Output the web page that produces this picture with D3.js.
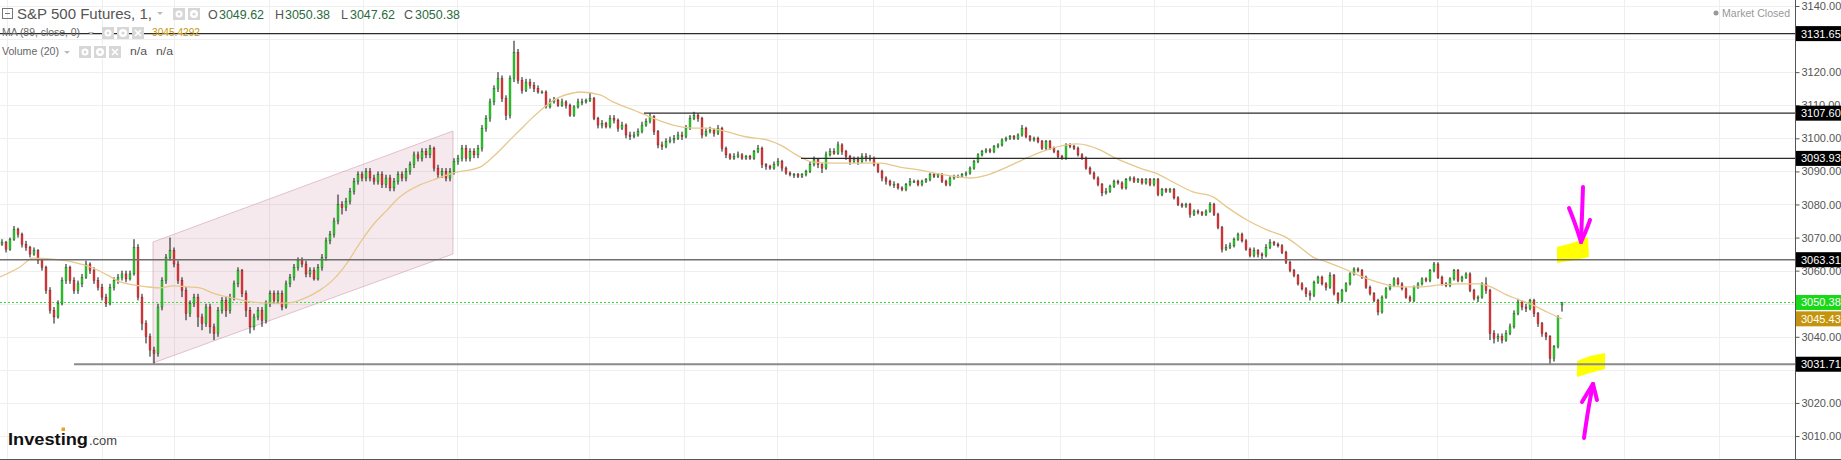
<!DOCTYPE html>
<html><head><meta charset="utf-8">
<script src="https://cdn.jsdelivr.net/npm/d3@7"></script>
<style>body{margin:0;background:#fff;overflow:hidden}svg{display:block}</style>
</head><body><svg id="c" width="1841" height="460"></svg>
<script>
// ---- DATA (1-minute S&P 500 futures bars) ----
const openP = [
3068,3068.5,3066.5,3069.5,3072.5,3071,3068,3067,3065,3066,
3063,3061,3054,3048,3046,3050,3057,3061,3057,3054,
3056,3058,3062,3060,3057,3055,3052,3050,3055,3057,
3058,3059,3057.5,3059,3067,3052,3044,3040,3036,3035,
3049,3057,3064,3066,3062,3057,3054,3047,3050,3052,
3046,3044,3049,3043,3041,3048,3051,3048,3052,3056,
3060,3053,3048,3043,3046,3048,3045,3050,3053,3051,
3053,3049,3056,3058,3061,3063,3062,3059,3060,3057.5,
3061,3064,3069,3071,3075,3080,3079,3081,3084,3087,
3089,3088,3090,3088,3087,3089,3086,3088,3085,3087,
3089,3088,3090,3092,3095,3094,3096,3095,3097,3091,
3089,3090,3088,3090,3093,3094,3097,3094,3096,3095,
3097,3103,3106,3111,3115,3118,3112,3107,3118,3126,
3117.5,3114.5,3117,3116,3115,3114,3114,3109.5,3111,3111.5,
3110,3111,3110,3107,3109.5,3111,3111,3111.5,3112,3106,
3104,3104.5,3103.5,3106,3105.5,3103,3104,3101,3100.5,3101,
3102,3104,3105,3106.5,3102,3098,3097.5,3099,3099.5,3100,
3101,3100.5,3103,3106,3107,3106,3101,3102,3102.5,3101.5,
3103,3097,3095,3094,3094.5,3095,3094,3094.5,3094,3096,
3097,3092,3091.5,3091,3092,3093,3091,3089.5,3089,3089,
3088.5,3089,3090,3092,3093.5,3092,3091,3095,3096,3095.5,
3098,3096,3094.5,3093,3093.5,3093,3094.5,3094,3094,3092,
3090,3088,3087,3086,3086,3085,3084.5,3086,3087,3087,
3086,3087,3087.5,3089,3088.5,3089,3087,3086,3088,3088.5,
3088.5,3089,3089.5,3091,3093,3095,3096,3096.5,3096,3097.5,
3098,3099.5,3100,3100.5,3100,3101,3103,3100.5,3099.5,3100,
3099,3097,3099,3097,3096,3094.5,3094,3098,3097.5,3097,
3095,3094,3091,3089.5,3088,3086,3083.5,3084,3085.5,3087,
3086.5,3085,3087.5,3088,3087,3087.5,3086.5,3087.5,3086,3087.5,
3083,3084.5,3084,3084.5,3082,3080,3079.5,3080,3077,3078,
3077.5,3077,3078,3080,3077,3073,3066.5,3067,3067.5,3069.5,
3071,3069,3066.5,3064.5,3066,3065,3064.5,3067,3068.5,3068,
3067.5,3065.5,3062.5,3060,3058.5,3056,3054.5,3053,3052.5,3056.5,
3058,3056,3055,3058.5,3053,3051,3054,3056,3059,3060.5,
3060,3058,3055,3053,3051,3047.5,3052,3054.5,3055.5,3057.5,
3056,3054.5,3052,3051,3055,3056,3057.5,3057,3060,3062,
3058,3056,3055.5,3057.5,3060,3057,3058,3059,3054,3051.5,
3052,3056,3054,3041,3039.5,3040,3039,3041,3043,3047,
3050.5,3049,3048.5,3051,3047,3044,3041,3040,3033.5,3037,
3049.62];
const highP = [
3069.5,3069,3070,3073.5,3073,3071.5,3069,3067.5,3067,3066.5,
3063.5,3061.5,3055,3049,3051,3058,3062,3061.5,3058,3057,
3059,3063,3062.5,3061,3058,3056,3053,3056,3058,3059,
3060,3060,3060,3069.5,3068,3053,3045,3041,3037,3050,
3058,3065,3070,3067,3063,3058,3055,3051,3053,3053,
3047,3050,3050,3044,3049,3052,3052,3053,3057,3061,
3060.5,3054,3049,3047,3049,3049,3051,3054,3054,3054,
3054,3057,3059,3062,3064,3064,3063,3061,3061,3062,
3065,3070,3072,3076,3083,3081,3082,3085,3088,3090,
3090,3091,3091,3089,3090,3090,3089,3089,3088,3090,
3090,3091,3093,3096,3096,3097,3097,3098,3097.5,3092,
3091,3091,3091,3094,3095,3098,3098,3097,3097,3098,
3104,3107,3112,3116,3120,3119,3113,3119,3129.5,3127,
3118.5,3118,3118,3117,3116,3114.5,3114.5,3112,3112.5,3112,
3112,3111.5,3110.5,3110,3112,3112,3112,3113.7,3112.5,3106.5,
3105.5,3105,3107,3107,3106,3105,3104.5,3102,3102,3103,
3105,3106,3107.6,3107,3102.5,3099,3100,3100.5,3101,3102,
3102,3104,3107,3108,3107.5,3106.5,3103,3103.5,3103,3104,
3103.5,3097.5,3095.5,3095.5,3096,3095.5,3095,3095,3096.5,3098,
3097.5,3092.5,3092,3093,3094,3093.5,3091.5,3090,3089.5,3089.5,
3089.5,3090.5,3093,3094.5,3094,3092.5,3096,3097,3097,3099,
3098.5,3096.5,3095,3094.5,3094.5,3095.5,3095.5,3095,3094.5,3092.5,
3090.5,3088.5,3087.5,3087,3086.5,3085.5,3086.5,3088,3087.5,3087.5,
3087.5,3088,3089.5,3089.5,3089.5,3089.5,3087.5,3088.5,3089,3089,
3089.5,3090,3091.5,3093.5,3095.5,3096.5,3097,3097,3098,3098.5,
3100,3100.5,3101,3101,3101.5,3104,3103.5,3101,3100.5,3100.5,
3099.5,3099.5,3099.5,3097.5,3096.5,3095,3098.5,3098.5,3098,3097.5,
3095.5,3094.5,3091.5,3090,3088.5,3086.5,3085,3086,3087.5,3087.5,
3087,3088,3088.5,3088.5,3088,3088,3088,3088,3088,3088,
3085,3085,3085,3085,3082.5,3080.5,3080.5,3080.5,3078.5,3078.5,
3078,3078.5,3080.7,3080.5,3077.5,3073.5,3068,3068.5,3070,3071.5,
3071.5,3069.5,3067,3067,3066.5,3065.5,3068,3069.5,3069,3068.5,
3068,3066,3063,3060.5,3059,3056.5,3055,3054,3057,3058.5,
3058.5,3056.5,3059.5,3059,3053.5,3054.5,3056.5,3059.5,3061,3061,
3060.5,3058.5,3055.5,3053.5,3051.5,3052.5,3055,3056,3058,3058,
3056.5,3055,3052.5,3055.5,3056.5,3058,3058,3060.5,3062.6,3062.5,
3058.5,3056.5,3058,3060.5,3060.5,3058.5,3059.5,3059.5,3054.5,3052.5,
3056.5,3058,3054.5,3042,3041,3041,3042,3044,3048,3051.5,
3051,3050,3051.5,3051.5,3047.5,3044.5,3041.5,3040.5,3037.5,3046.5,
3050.38];
const lowP = [
3067.5,3065.5,3066,3069,3070,3067,3066,3064,3064.5,3062,
3060,3053,3047,3044,3045.5,3049.5,3056,3056,3053,3053,
3055,3057.5,3059,3056,3054,3051,3049,3049.5,3054,3056,
3057,3056.5,3057,3058.5,3051,3042,3038,3034,3031.7,3034,
3048,3056,3063,3061,3056,3052,3045,3046,3049,3043,
3042,3043,3041,3039,3040,3047,3046,3047,3051,3055,
3052,3046,3041,3042,3045,3043,3044,3049,3050,3050,
3048,3048.5,3055,3057,3060,3061,3058,3058,3057,3057,
3060,3063,3068,3070,3074,3077,3078,3080,3083,3086,
3087,3087,3087,3086,3086,3085,3085,3084,3084,3086,
3087,3087,3089,3091,3093,3093,3094,3094,3090,3088,
3088,3087,3087,3089,3092,3093,3093,3093,3094,3094,
3096,3102,3105,3110,3114,3111,3105.5,3106,3117,3116.5,
3113.5,3114,3115,3114,3113.5,3113.5,3109,3109,3110.5,3109.5,
3109.5,3109,3106.5,3106.5,3109,3110,3110.5,3111,3105.5,3103,
3103,3103,3103,3104.5,3102,3102.5,3100,3099.5,3100,3100.5,
3101.5,3103.5,3104.5,3101,3097,3096.5,3097,3098.5,3098.5,3099.5,
3099.5,3100,3102.5,3105.5,3105,3100,3100.5,3101.5,3100.5,3101,
3096,3094,3093.5,3093.5,3094,3093.5,3093.5,3093.5,3093.5,3095.5,
3091,3090.5,3090.5,3090.5,3091.5,3090,3089,3088.5,3088,3088,
3088,3088.5,3089.5,3091.5,3091,3089.5,3090.5,3094.5,3095,3095,
3095,3093.5,3092,3092.5,3092,3092.5,3093,3093,3091.5,3089.5,
3087,3086,3085.5,3085,3084.5,3084,3084,3085.5,3086.5,3085.5,
3085.5,3086.5,3087,3088,3088,3086.5,3085.5,3085.5,3087.5,3088,
3088,3088.5,3089,3090.5,3092.5,3094.5,3095.5,3095.5,3095.5,3097,
3097.5,3099,3099.5,3099.5,3099.5,3100.5,3100,3099,3099,3098.5,
3096.5,3096.5,3096.5,3095.5,3094,3093.5,3093.5,3097,3096.5,3094.5,
3093.5,3090.5,3089,3087.5,3085.5,3082.5,3083,3083.5,3085,3086,
3084.5,3084.5,3087,3086.5,3086.5,3086,3086,3085.5,3085.5,3082.5,
3082.5,3083.5,3083.5,3081.5,3079.5,3079,3079,3076,3076.5,3077,
3076.5,3076.5,3077.5,3076.5,3072.5,3065.5,3066,3066.5,3067,3069,
3068.5,3066,3064,3064,3064,3063.5,3064,3066.5,3067.5,3067,
3065,3062,3059.5,3058,3055.5,3054,3052,3051,3052,3056,
3055.5,3054,3054.5,3052.5,3050,3050.5,3053.5,3055.5,3058.5,3059.5,
3057.5,3054.5,3052.5,3050.5,3046.5,3047,3051.5,3054,3055,3055.5,
3054,3051.5,3050.5,3050.5,3054.5,3055.5,3056.5,3056.5,3059.5,3057.5,
3055.5,3055,3055,3057,3056.5,3056.5,3057.5,3053.5,3051,3050.5,
3051.5,3053,3039,3038,3038.5,3038,3038.5,3040.5,3042.5,3046.5,
3048,3047.5,3048,3046,3043,3040,3039,3031.7,3032.5,3036.5,
3047.62];
const closeP = [
3068.5,3066.5,3069.5,3072.5,3071,3068,3067,3065,3066,3063,
3061,3054,3048,3046,3050,3057,3061,3057,3054,3056,
3058,3062,3060,3057,3055,3052,3050,3055,3057,3058,
3059,3057.5,3059,3067,3052,3044,3040,3036,3035,3049,
3057,3064,3066,3062,3057,3054,3047,3050,3052,3046,
3044,3049,3043,3041,3048,3051,3048,3052,3056,3060,
3053,3048,3043,3046,3048,3045,3050,3053,3051,3053,
3049,3056,3058,3061,3063,3062,3059,3060,3057.5,3061,
3064,3069,3071,3075,3080,3079,3081,3084,3087,3089,
3088,3090,3088,3087,3089,3086,3088,3085,3087,3089,
3088,3090,3092,3095,3094,3096,3095,3097,3091,3089,
3090,3088,3090,3093,3094,3097,3094,3096,3095,3097,
3103,3106,3111,3115,3118,3112,3107,3118,3126,3117.5,
3114.5,3117,3116,3115,3114,3114,3109.5,3111,3111.5,3110,
3111,3110,3107,3109.5,3111,3111,3111.5,3112,3106,3104,
3104.5,3103.5,3106,3105.5,3103,3104,3101,3100.5,3101,3102,
3104,3105,3106.5,3102,3098,3097.5,3099,3099.5,3100,3101,
3100.5,3103,3106,3107,3106,3101,3102,3102.5,3101.5,3103,
3097,3095,3094,3094.5,3095,3094,3094.5,3094,3096,3097,
3092,3091.5,3091,3092,3093,3091,3089.5,3089,3089,3088.5,
3089,3090,3092,3093.5,3092,3091,3095,3096,3095.5,3098,
3096,3094.5,3093,3093.5,3093,3094.5,3094,3094,3092,3090,
3088,3087,3086,3086,3085,3084.5,3086,3087,3087,3086,
3087,3087.5,3089,3088.5,3089,3087,3086,3088,3088.5,3088.5,
3089,3089.5,3091,3093,3095,3096,3096.5,3096,3097.5,3098,
3099.5,3100,3100.5,3100,3101,3103,3100.5,3099.5,3100,3099,
3097,3099,3097,3096,3094.5,3094,3098,3097.5,3097,3095,
3094,3091,3089.5,3088,3086,3083.5,3084,3085.5,3087,3086.5,
3085,3087.5,3088,3087,3087.5,3086.5,3087.5,3086,3087.5,3083,
3084.5,3084,3084.5,3082,3080,3079.5,3080,3077,3078,3077.5,
3077,3078,3080,3077,3073,3066.5,3067,3067.5,3069.5,3071,
3069,3066.5,3064.5,3066,3065,3064.5,3067,3068.5,3068,3067.5,
3065.5,3062.5,3060,3058.5,3056,3054.5,3053,3052.5,3056.5,3058,
3056,3055,3058.5,3053,3051,3054,3056,3059,3060.5,3060,
3058,3055,3053,3051,3047.5,3052,3054.5,3055.5,3057.5,3056,
3054.5,3052,3051,3055,3056,3057.5,3057,3060,3062,3058,
3056,3055.5,3057.5,3060,3057,3058,3059,3054,3051.5,3052,
3056,3054,3041,3039.5,3040,3039,3041,3043,3047,3050.5,
3049,3048.5,3051,3047,3044,3041,3040,3033.5,3037,3046,
3050.38];

// 89-period moving average, sampled at bar positions
const maIdx = [-0.5,4.5,7.75,12.75,17.75,22.75,26.25,29.5,32.75,36.25,39.5,42.75,46.25,49.5,52.75,57.75,62.75,66.25,71.25,74.5,79.5,82.75,86.25,89.5,92.75,96.25,99.5,104.5,107.75,112.75,119.5,122.75,126.25,129.5,132.75,136.25,139.5,142.75,144.5,149.5,152.75,157.75,162.75,167.75,172.75,176.25,179.5,186.25,191.25,194.5,199.5,202.75,207.75,216.25,219.5,224.5,229.5,234.5,239.5,242,246.25,251.25,256.25,261.25,266.25,268.75,274.5,277.75,284.5,289.5,292.75,297.75,302.75,306.25,311.25,316.25,321.25,324.5,327.75,331.25,336.25,339.5,344.5,349.5,354.5,359.5,364.5,369.5,372.75,376.25,379.5,382.75,386.25,389.5,390];
const maVal = [3058.1,3061.1,3063.8,3063.5,3062.6,3060.8,3058.7,3056.6,3055.7,3055.1,3054.8,3055.4,3055.1,3054.8,3053.2,3051.7,3050.5,3050.2,3050.2,3051.1,3054.1,3057.2,3062.3,3068.4,3073.8,3078.3,3082.3,3085.9,3087.4,3089.5,3091.3,3094.4,3098.6,3102.5,3106.4,3110.1,3112.5,3113.7,3114.0,3113.1,3111.0,3108.6,3106.1,3104.0,3103.1,3103.1,3102.5,3100.4,3099.5,3098.0,3094.4,3092.8,3092.5,3092.5,3092.5,3091.3,3090.4,3089.2,3088.3,3088.0,3088.9,3091.3,3094.1,3096.5,3098.0,3098.3,3096.5,3094.4,3091.0,3088.9,3086.8,3083.8,3082.3,3079.2,3075.3,3072.3,3069.9,3067.1,3064.1,3062.6,3060.2,3058.4,3056.3,3055.1,3055.1,3055.7,3056.0,3056.0,3054.8,3052.6,3051.1,3049.6,3047.5,3045.7,3045.43];

const yTicks = [3010,3020,3030,3040,3050,3060,3070,3080,3090,3100,3110,3120,3130,3140];
const timeGrid = [1.25,25,43,66.75,90.25,113.75,146.75,170.5,193.75,217.75,241,264.5,288,311.5,335,358.75,382.25,405.5,429.25];

const levelVals = [3131.65,3107.60,3093.93,3063.31,3031.71];
const levelStart = [-0.5,160.5,199.75,-0.5,18];
const lastPrice = 3050.38;
const maLast = 3045.43;
const channelIdx = [37.75,112.75];
const channelTop = [3068.66,3102.21];
const channelBot = [3032.08,3065.03];
const legendOHLC = ["3049.62","3050.38","3047.62","3050.38"];
const maLegend = "3045.4292";

// ---- CHART ----
const W=1841,H=460,plotR=1795;
const svg=d3.select('#c');
const x=d3.scaleLinear().domain([0,390]).range([2,1562]);
const y=d3.scaleLinear().domain([3002.76,3141.81]).range([460,0]);
const font='"Liberation Sans", Arial, sans-serif';

// grid
const g=svg.append('g');
g.selectAll('.hg').data(yTicks).enter().append('line')
 .attr('x1',0).attr('x2',plotR).attr('y1',d=>Math.round(y(d))+0.5).attr('y2',d=>Math.round(y(d))+0.5)
 .attr('stroke','#efefef');
g.selectAll('.vg').data(timeGrid).enter().append('line')
 .attr('y1',0).attr('y2',H).attr('x1',d=>Math.round(x(d))+0.5).attr('x2',d=>Math.round(x(d))+0.5)
 .attr('stroke','#efefef');

// channel
const chPts=[[x(channelIdx[0]),y(channelTop[0])],[x(channelIdx[1]),y(channelTop[1])],[x(channelIdx[1]),y(channelBot[1])],[x(channelIdx[0]),y(channelBot[0])]];
svg.append('polygon').attr('points',chPts.map(p=>p.join(',')).join(' '))
 .attr('fill','rgba(196,120,150,0.16)').attr('stroke','rgba(205,150,170,0.55)').attr('stroke-width',1);

// yellow highlights (hand drawn)
const yellow1=[[1557,247],[1572,243],[1588,237],[1589,257],[1575,260],[1557,263]];
const yellow2=[[1577,361],[1590,356],[1605,353],[1605,369],[1590,373],[1577,377]];
[yellow1,yellow2].forEach(p=>svg.append('polygon').attr('points',p.map(q=>q.join(',')).join(' ')).attr('fill','#ffff00'));

// green dotted last-price line
svg.append('line').attr('x1',0).attr('x2',plotR).attr('y1',Math.round(y(lastPrice))+0.5).attr('y2',Math.round(y(lastPrice))+0.5)
 .attr('stroke','#3ee03e').attr('stroke-dasharray','2,2').attr('stroke-width',1);

// candles
const bars=d3.range(closeP.length).map(i=>({i,o:openP[i],h:highP[i],l:lowP[i],c:closeP[i]}));
const cg=svg.append('g');
cg.selectAll('.w').data(bars).enter().append('line')
 .attr('x1',d=>x(d.i)).attr('x2',d=>x(d.i)).attr('y1',d=>y(d.h)).attr('y2',d=>y(d.l))
 .attr('stroke','#111').attr('stroke-width',1);
cg.selectAll('.b').data(bars).enter().append('rect')
 .attr('x',d=>x(d.i)-1).attr('width',2)
 .attr('y',d=>y(Math.max(d.o,d.c)))
 .attr('height',d=>Math.max(1,Math.abs(y(d.o)-y(d.c))))
 .attr('fill',d=>d.c>=d.o?'#22dd22':'#ff3333')
 .attr('stroke','#000').attr('stroke-width',0.35).attr('stroke-opacity',0.7);

// moving average
svg.append('path').datum(maIdx.map((d,k)=>[d,maVal[k]]))
 .attr('d',d3.line().x(d=>x(d[0])).y(d=>y(d[1])).curve(d3.curveMonotoneX))
 .attr('fill','none').attr('stroke','#e6c88c').attr('stroke-width',1.3);

// horizontal levels
const levelColor=['#2b2b2b','#2b2b2b','#2b2b2b','#6e6e6e','#8a8a8a'];
const levelWidth=[1.3,1.3,1.3,1.6,2.2];
levelVals.forEach((v,k)=>{
  svg.append('line').attr('x1',x(levelStart[k])).attr('x2',plotR).attr('y1',y(v)).attr('y2',y(v))
   .attr('stroke',levelColor[k]).attr('stroke-width',levelWidth[k]);
});

// hand-drawn magenta arrows
const arrows=[
 [[1583,187],[1582,215],[1581,242]],
 [[1569,208],[1576,226],[1581,242]],
 [[1590,220],[1586,231],[1581,242]],
 [[1584,438],[1588,410],[1593,384]],
 [[1582,402],[1588,392],[1593,384]],
 [[1597,400],[1595,392],[1593,384]]
];
arrows.forEach(p=>svg.append('path').attr('d',d3.line().curve(d3.curveBasis)(p))
 .attr('fill','none').attr('stroke','#ff00ff').attr('stroke-width',4).attr('stroke-linecap','round'));

// right axis (tick labels that sit fully under a price box are hidden, as in the original)
const boxVals=levelVals.concat([lastPrice,maLast]);
const shownTicks=yTicks.filter(t=>!boxVals.some(v=>Math.abs(y(v)-y(t))<7));
const ax=svg.append('g').attr('transform',`translate(${plotR+0.5},0)`)
 .call(d3.axisRight(y).tickValues(shownTicks).tickFormat(d3.format('.2f')).tickSize(4).tickPadding(2));
ax.select('.domain').attr('stroke','#555').attr('d',`M0,0V${H}`);
ax.selectAll('.tick line').attr('stroke','#555');
ax.selectAll('text').attr('fill','#555').style('font-family',font).style('font-size','11px');

// price label boxes
const boxes=levelVals.map(v=>({v,bg:'#000'})).concat([{v:lastPrice,bg:'#18d818'},{v:maLast,bg:'#c4940c'}]);
boxes.forEach(b=>{
  const yy=y(b.v);
  svg.append('rect').attr('x',plotR+1).attr('y',yy-7.5).attr('width',W-plotR-1).attr('height',15).attr('fill',b.bg);
  svg.append('text').attr('x',plotR+6).attr('y',yy+4).text(b.v.toFixed(2))
   .attr('fill','#fff').style('font-family',font).style('font-size','11px');
});

// bottom border
svg.append('line').attr('x1',0).attr('x2',W).attr('y1',459.5).attr('y2',459.5).attr('stroke','#555');

// ---- legend ----
function txt(s,xx,yy,size,fill,len,weight){
  const t=svg.append('text').attr('x',xx).attr('y',yy).text(s).attr('fill',fill)
   .style('font-family',font).style('font-size',size+'px');
  if(weight) t.style('font-weight',weight);
  if(len) t.attr('textLength',len).attr('lengthAdjust','spacingAndGlyphs');
  return t;
}
function icon(xx,yy,kind){
  svg.append('rect').attr('x',xx).attr('y',yy).attr('width',12).attr('height',12).attr('fill','#d7d7d7');
  if(kind==='eye'){svg.append('circle').attr('cx',xx+6).attr('cy',yy+6).attr('r',3.5).attr('fill','#fff');
    svg.append('circle').attr('cx',xx+6).attr('cy',yy+6).attr('r',1.5).attr('fill','#d7d7d7');}
  else if(kind==='gear'){svg.append('circle').attr('cx',xx+6).attr('cy',yy+6).attr('r',4).attr('fill','#fff');
    svg.append('circle').attr('cx',xx+6).attr('cy',yy+6).attr('r',1.6).attr('fill','#d7d7d7');}
  else {svg.append('path').attr('d',`M${xx+3},${yy+3}L${xx+9},${yy+9}M${xx+9},${yy+3}L${xx+3},${yy+9}`).attr('stroke','#fff').attr('stroke-width',1.6);}
}
function caret(xx,yy){svg.append('path').attr('d',`M${xx},${yy}L${xx+6},${yy}L${xx+3},${yy+3}Z`).attr('fill','#bbb');}

svg.append('rect').attr('x',2.5).attr('y',8.5).attr('width',10).attr('height',10).attr('fill','none').attr('stroke','#777');
svg.append('line').attr('x1',5).attr('x2',10).attr('y1',13.5).attr('y2',13.5).attr('stroke','#777');
txt('S&P 500 Futures, 1,',17,19,15,'#555',135);
caret(157,12);
icon(173,8,'eye'); icon(188,8,'gear');
const ohlcX=[[208,219],[275,285],[341,350],[404,415]];
['O','H','L','C'].forEach((k,j)=>{
  txt(k,ohlcX[j][0],19,12.5,'#555');
  txt(legendOHLC[j],ohlcX[j][1],19,12.5,'#2c6a40',45);
});
txt('MA (89, close, 0)',2,36,11,'#666',78); caret(88,32);
icon(102,27,'eye'); icon(117,27,'gear'); icon(132,27,'x');
txt(maLegend,152,36,11,'#c8960c',48);
txt('Volume (20)',2,55,11,'#666',57); caret(64,51);
icon(79,46,'eye'); icon(94,46,'gear'); icon(109,46,'x');
txt('n/a',130,55,11,'#555',17); txt('n/a',156,55,11,'#555',17);

// market closed
svg.append('circle').attr('cx',1716).attr('cy',13).attr('r',2.5).attr('fill','#999');
txt('Market Closed',1722,17,11.5,'#999',68);

// logo
txt('Investing',8,445,17,'#111',80,'bold');
svg.append('rect').attr('x',61.5).attr('y',427.5).attr('width',3.5).attr('height',3.5).attr('fill','#f5a01a');
txt('.com',89,445,12,'#444',28);
</script></body></html>
